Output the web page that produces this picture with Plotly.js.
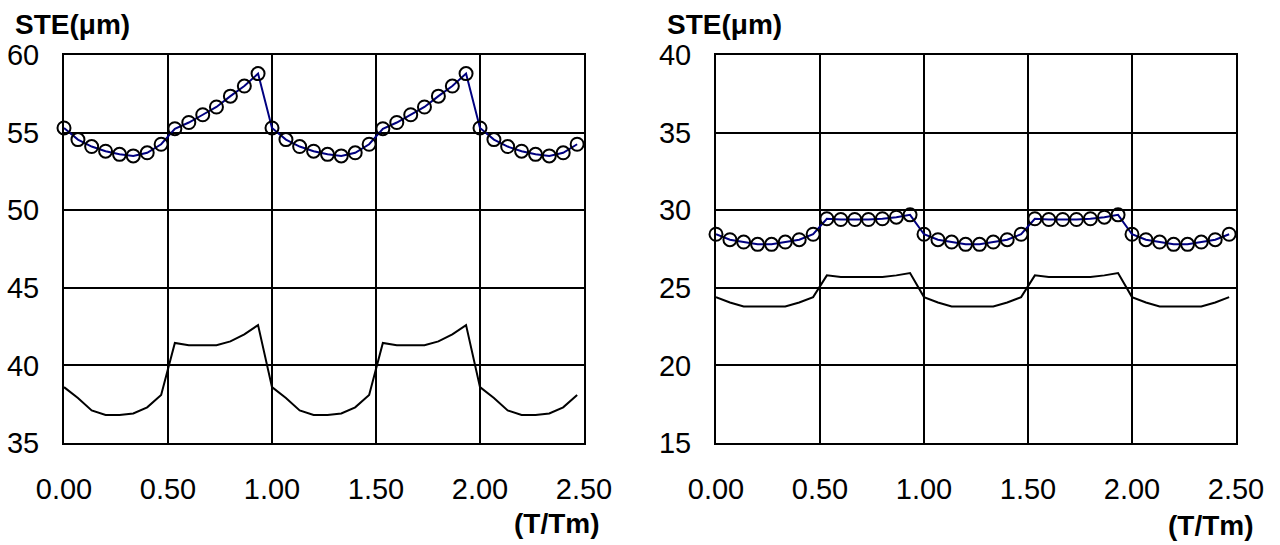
<!DOCTYPE html>
<html>
<head>
<meta charset="utf-8">
<script src="https://cdn.plot.ly/plotly-3.0.1.min.js"></script>
<style>html,body{margin:0;padding:0;background:#fff;}#chart{width:1280px;height:545px;}</style>
</head>
<body>
<div id="chart"></div>
<script>
// x values (T/Tm)
const xVals = [0.000,0.067,0.133,0.200,0.267,0.333,0.400,0.467,0.533,0.600,0.667,0.733,0.800,0.867,0.933,
               1.000,1.067,1.133,1.200,1.267,1.333,1.400,1.467,1.533,1.600,1.667,1.733,1.800,1.867,1.933,
               2.000,2.067,2.133,2.200,2.267,2.333,2.400,2.467];

// Left chart: STE (µm)
const leftUpper = [55.3,54.55,54.1,53.8,53.6,53.5,53.7,54.25,55.25,55.65,56.15,56.65,57.35,58.0,58.8,
                   55.3,54.55,54.1,53.8,53.6,53.5,53.7,54.25,55.25,55.65,56.15,56.65,57.35,58.0,58.8,
                   55.3,54.55,54.1,53.8,53.6,53.5,53.7,54.25];
const leftLower = [38.6,37.9,37.1,36.8,36.8,36.9,37.3,38.1,41.45,41.3,41.3,41.3,41.55,42.0,42.6,
                   38.6,37.9,37.1,36.8,36.8,36.9,37.3,38.1,41.45,41.3,41.3,41.3,41.55,42.0,42.6,
                   38.6,37.9,37.1,36.8,36.8,36.9,37.3,38.1];

// Right chart: STE (µm)
const rightUpper = [28.45,28.1,27.95,27.8,27.8,27.95,28.1,28.45,29.45,29.4,29.4,29.4,29.45,29.55,29.7,
                    28.45,28.1,27.95,27.8,27.8,27.95,28.1,28.45,29.45,29.4,29.4,29.4,29.45,29.55,29.7,
                    28.45,28.1,27.95,27.8,27.8,27.95,28.1,28.45];
const rightLower = [24.4,24.05,23.8,23.8,23.8,23.8,24.05,24.4,25.8,25.7,25.7,25.7,25.7,25.8,25.95,
                    24.4,24.05,23.8,23.8,23.8,23.8,24.05,24.4,25.8,25.7,25.7,25.7,25.7,25.8,25.95,
                    24.4,24.05,23.8,23.8,23.8,23.8,24.05,24.4];

const xTickVals = [0, 0.5, 1.0, 1.5, 2.0, 2.5];
const xTickText = ['0.00','0.50','1.00','1.50','2.00','2.50'];
const leftYTicks = [35,40,45,50,55,60];
const rightYTicks = [15,20,25,30,35,40];
const yTitle = 'STE(μm)';
const xTitle = '(T/Tm)';

const FONT = 'Liberation Sans, Arial, sans-serif';
const W = 1280, H = 545;

function upperTrace(y, xa, ya) {
  return {x: xVals, y: y, xaxis: xa, yaxis: ya, type: 'scatter', mode: 'lines+markers',
    line: {color: '#000080', width: 2},
    marker: {symbol: 'circle-open', size: 13, color: '#000000', line: {width: 2, color: '#000000'}},
    cliponaxis: false, showlegend: false, hoverinfo: 'x+y'};
}
function lowerTrace(y, xa, ya) {
  return {x: xVals, y: y, xaxis: xa, yaxis: ya, type: 'scatter', mode: 'lines',
    line: {color: '#000000', width: 2}, showlegend: false, hoverinfo: 'x+y'};
}

const data = [
  lowerTrace(leftLower, 'x', 'y'),
  upperTrace(leftUpper, 'x', 'y'),
  lowerTrace(rightLower, 'x2', 'y2'),
  upperTrace(rightUpper, 'x2', 'y2')
];

function xAxis(domain, anchor) {
  return {domain: domain, anchor: anchor, range: [0, 2.5], tickmode: 'array',
    tickvals: xTickVals, ticktext: xTickText, showgrid: true, gridcolor: '#000', gridwidth: 2,
    showline: true, linecolor: '#000', linewidth: 2, mirror: true, zeroline: false,
    ticks: '', ticklabelstandoff: 19, automargin: false,
    tickfont: {family: FONT, size: 29, color: '#000'}};
}
function yAxis(domain, anchor, range, ticks) {
  return {domain: domain, anchor: anchor, range: range, tickmode: 'array', tickvals: ticks,
    showgrid: true, gridcolor: '#000', gridwidth: 2,
    showline: true, linecolor: '#000', linewidth: 2, mirror: true, zeroline: false,
    ticks: '', ticklabelstandoff: 17, automargin: false,
    tickfont: {family: FONT, size: 29, color: '#000'}};
}

const yDom = [1 - 443 / H, 1 - 55 / H];
const layout = {
  width: W, height: H,
  margin: {l: 0, r: 0, t: 0, b: 0},
  paper_bgcolor: '#fff', plot_bgcolor: '#fff',
  showlegend: false,
  xaxis: xAxis([64 / W, 584 / W], 'y'),
  yaxis: yAxis(yDom, 'x', [35, 60], leftYTicks),
  xaxis2: xAxis([716 / W, 1236 / W], 'y2'),
  yaxis2: yAxis(yDom, 'x2', [15, 40], rightYTicks),
  annotations: [
    {text: '<b>' + yTitle + '</b>', xref: 'paper', yref: 'paper', x: 13 / W, y: 1 - 25 / H,
     xanchor: 'left', yanchor: 'middle', showarrow: false, font: {family: FONT, size: 28, color: '#000'}},
    {text: '<b>' + yTitle + '</b>', xref: 'paper', yref: 'paper', x: 665 / W, y: 1 - 25 / H,
     xanchor: 'left', yanchor: 'middle', showarrow: false, font: {family: FONT, size: 28, color: '#000'}},
    {text: '<b>' + xTitle + '</b>', xref: 'paper', yref: 'paper', x: 602 / W, y: 1 - 523 / H,
     xanchor: 'right', yanchor: 'middle', showarrow: false, font: {family: FONT, size: 28, color: '#000'}},
    {text: '<b>' + xTitle + '</b>', xref: 'paper', yref: 'paper', x: 1256 / W, y: 1 - 525 / H,
     xanchor: 'right', yanchor: 'middle', showarrow: false, font: {family: FONT, size: 28, color: '#000'}}
  ]
};

Plotly.newPlot('chart', data, layout, {displayModeBar: false, staticPlot: true});
</script>
</body>
</html>
